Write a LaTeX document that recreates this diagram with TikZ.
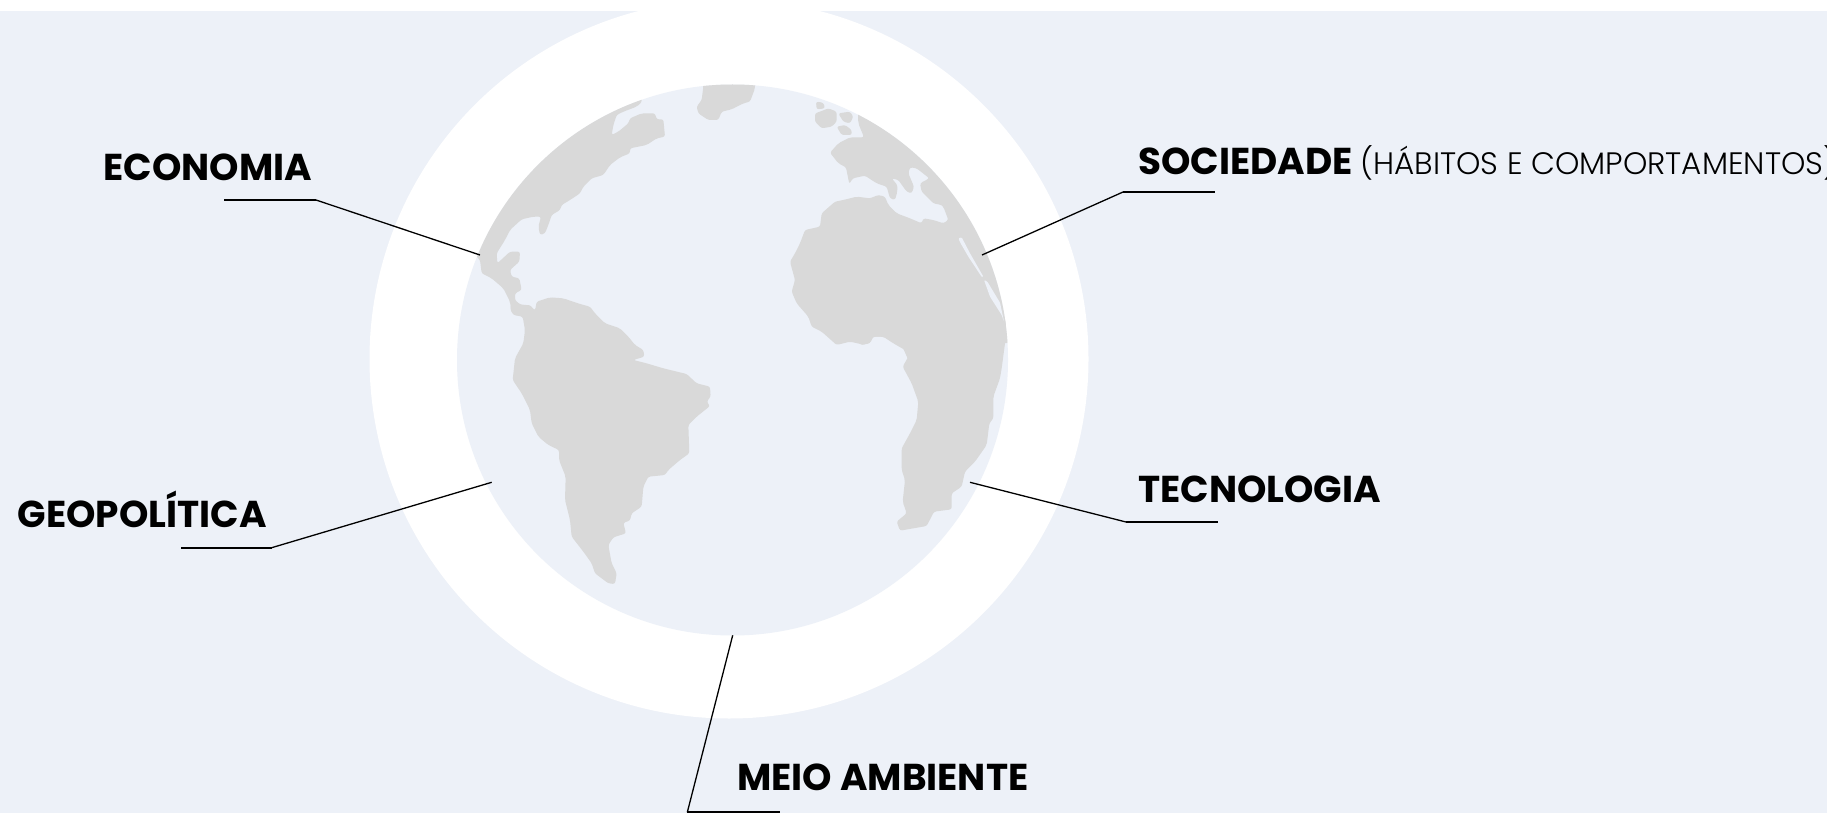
\documentclass[tikz,border=0pt]{standalone}
\usepackage{fontspec}
\setmainfont{Poppins}
\newfontfamily\poplight[UprightFont={* Light}]{Poppins}
\definecolor{bgc}{HTML}{EDF1F8}
\definecolor{land}{HTML}{D9D9D9}
\tikzset{
  lbl/.style={inner sep=0pt,anchor=base west,font=\fontsize{37.4}{37.4}\selectfont\bfseries,text=black},
  lead/.style={draw=black,line width=1.3pt},
  under/.style={draw=black,line width=2pt},
  landfill/.style={fill=land,rounded corners=2.2pt},
  seafill/.style={fill=bgc,rounded corners=1pt},
  zoomA/.style={shift={(460,70)},x=.33333pt,y=-.33333pt},
  zoomB/.style={shift={(480,280)},x=.33333pt,y=-.33333pt},
  zoomC/.style={shift={(770,80)},x=.33333pt,y=-.33333pt},
  zoomD/.style={shift={(860,320)},x=.33333pt,y=-.33333pt}
}
\begin{document}
\begin{tikzpicture}[x=1pt,y=-1pt]
\useasboundingbox (0,0) rectangle (1827,813);
\fill[white] (0,0) rectangle (1827,813);
\begin{scope}
\clip (0,0) rectangle (1827,813);
\fill[bgc] (0,11) rectangle (1827,813);
\coordinate (ctrO) at (729,359);
\coordinate (ctrI) at (732.5,360);
\fill[white] (ctrO) circle [radius=359.5pt];
\fill[bgc] (ctrI) circle [radius=275.5pt];
\begin{scope}
\clip (ctrI) circle [radius=275.5pt];
% North America and Greenland
\begin{scope}[zoomA]
\fill[landfill] (545,97)--(530,110)--(490,125)--(470,135)--(460,165)--(455,195)--(475,185)--(505,160)--(510,145)--(545,130)--(585,130)--(590,148)--(610,148)--(615,200)--(590,205)--(560,225)--(510,235)--(510,250)--(480,262)--(450,285)--(430,315)--(395,325)--(370,350)--(360,370)--(330,390)--(305,405)--(300,420)--(275,435)--(265,465)--(255,490)--(240,495)--(235,470)--(243,440)--(220,440)--(185,448)--(150,480)--(135,510)--(110,550)--(112,580)--(150,545)--(180,545)--(178,575)--(150,600)--(155,620)--(178,625)--(185,660)--(165,670)--(165,690)--(180,705)--(205,705)--(225,725)--(250,760)--(200,780)--(190,740)--(155,730)--(150,695)--(130,655)--(95,625)--(65,610)--(60,570)--(30,540)--(100,300)--(300,100)--(545,50)--cycle;
\fill[landfill] (730,50)--(725,90)--(710,110)--(715,130)--(745,150)--(775,150)--(785,125)--(815,118)--(850,100)--(870,95)--(885,55)--(885,30)--(730,30)--cycle;
\end{scope}
% South America
\begin{scope}[zoomB]
\fill[landfill] (170,65)--(210,52)--(250,55)--(300,72)--(330,80)--(345,100)--(375,130)--(420,145)--(445,170)--(465,195)--(490,210)--(493,230)--(460,240)--(500,250)--(550,265)--(620,282)--(650,310)--(690,320)--(692,350)--(680,365)--(690,378)--(650,410)--(625,435)--(628,520)--(600,540)--(565,570)--(555,585)--(505,590)--(490,620)--(485,680)--(455,700)--(450,722)--(430,728)--(438,760)--(400,772)--(385,795)--(395,850)--(410,880)--(405,912)--(385,910)--(345,880)--(335,850)--(310,815)--(275,770)--(270,720)--(255,660)--(257,590)--(237,540)--(237,510)--(205,495)--(175,470)--(155,430)--(150,390)--(125,340)--(98,300)--(105,235)--(130,190)--(135,150)--(128,110)--(100,105)--(90,85)--(100,60)--(125,75)--(150,75)--(165,92)--cycle;
\end{scope}
% Europe, North Africa, islands
\begin{scope}[zoomC]
\fill[landfill] (138,65)--(160,68)--(165,85)--(140,88)--cycle;
\fill[landfill] (135,100)--(150,95)--(175,85)--(200,95)--(200,125)--(185,140)--(155,145)--(135,125)--cycle;
\fill[landfill] (205,100)--(240,95)--(250,110)--(240,130)--(220,125)--cycle;
\fill[landfill] (200,140)--(225,135)--(245,150)--(245,165)--(215,165)--cycle;
\fill[landfill] (265,130)--(282,172)--(240,172)--(205,190)--(180,218)--(205,250)--(228,262)--(238,312)--(248,295)--(285,287)--(320,310)--(350,320)--(360,355)--(375,360)--(382,335)--(382,315)--(365,295)--(385,300)--(410,335)--(425,340)--(432,320)--(415,280)--(420,262)--(440,265)--(478,295)--(450,310)--(455,335)--(490,370)--(515,375)--(520,380)--(535,420)--(520,430)--(490,420)--(460,415)--(455,430)--(420,415)--(380,400)--(355,375)--(345,350)--(325,345)--(300,355)--(260,350)--(220,360)--(195,365)--(155,400)--(150,440)--(105,450)--(90,490)--(75,520)--(60,545)--(75,600)--(65,635)--(80,670)--(115,710)--(125,740)--(155,755)--(200,795)--(240,785)--(285,795)--(305,770)--(340,770)--(395,795)--(415,840)--(600,780)--(712,790)--(800,740)--(700,400)--(450,150)--(262,50)--cycle;
\end{scope}
% South Africa part
\begin{scope}[zoomD]
\fill[landfill] (0,75)--(30,70)--(40,50)--(70,50)--(100,70)--(135,90)--(145,110)--(128,140)--(155,190)--(175,245)--(170,300)--(150,340)--(125,385)--(125,450)--(135,480)--(128,545)--(140,580)--(110,605)--(120,632)--(200,618)--(222,575)--(275,568)--(275,520)--(305,500)--(315,455)--(345,425)--(380,375)--(388,310)--(400,295)--(400,230)--(420,175)--(425,145)--(435,70)--(440,20)--(445,0)--(0,0)--cycle;
\end{scope}
% Red Sea
\begin{scope}[zoomC]
\fill[seafill] (565,475)--(575,472)--(600,520)--(640,590)--(636,592)--(595,530)--(572,490)--cycle;
\fill[seafill] (642,600)--(652,605)--(690,668)--(702,725)--(695,705)--(660,650)--cycle;
\end{scope}
\end{scope}
% Labels
\node[lbl] (eco) at (103.5,180.5) {ECONOMIA};
\node[lbl] (soc) at (1138,175) {SOCIEDADE \fontsize{31}{31}\selectfont\poplight\mdseries (HÁBITOS E COMPORTAMENTOS)};
\node[lbl] (tec) at (1138,502) {TECNOLOGIA};
\node[lbl] (geo) at (17.5,527.5) {GEOPOLÍTICA};
\node[lbl] (mei) at (737,790.5) {MEIO AMBIENTE};
% Connectors
\coordinate (ecoA) at (480,255);
\coordinate (ecoB) at (316,200);
\coordinate (ecoC) at (224,200);
\coordinate (socA) at (982,255);
\coordinate (socB) at (1123,192);
\coordinate (socC) at (1215,192);
\coordinate (tecA) at (970,482.3);
\coordinate (tecB) at (1126,522);
\coordinate (tecC) at (1217.5,522);
\coordinate (geoA) at (491.7,482.3);
\coordinate (geoB) at (272,547.6);
\coordinate (geoC) at (181,547.6);
\coordinate (meiA) at (732.7,635.3);
\coordinate (meiB) at (687.3,812.3);
\coordinate (meiC) at (780,812.3);
\draw[lead] (ecoA)--(ecoB); \draw[under] (ecoB)--(ecoC);
\draw[lead] (socA)--(socB); \draw[under] (socB)--(socC);
\draw[lead] (tecA)--(tecB); \draw[under] (tecB)--(tecC);
\draw[lead] (geoA)--(geoB); \draw[under] (geoB)--(geoC);
\draw[lead] (meiA)--(meiB); \draw[under] (meiB)--(meiC);
\end{scope}
\end{tikzpicture}
\end{document}
